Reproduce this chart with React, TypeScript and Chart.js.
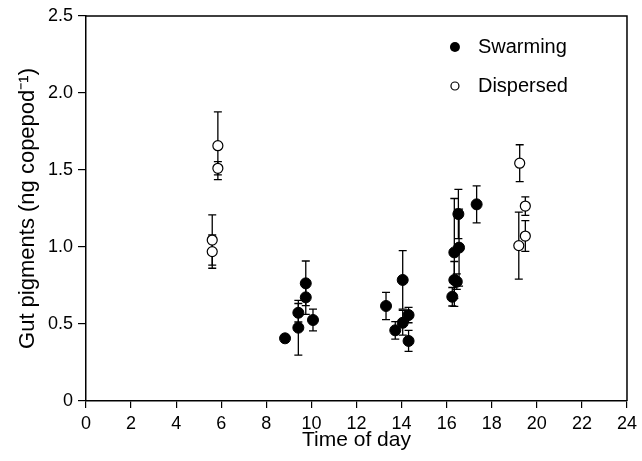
import React, { useEffect, useRef } from "react";
import { Chart, registerables } from "chart.js";

Chart.register(...registerables);

// ---- Data ----
const xTicks = [0, 2, 4, 6, 8, 10, 12, 14, 16, 18, 20, 22, 24];
const yTicks = [0, 0.5, 1.0, 1.5, 2.0, 2.5];

const swarmX = [8.83, 9.42, 9.42, 9.75, 9.75, 10.07, 13.31, 13.72, 14.05, 14.05, 14.31, 14.31, 16.25, 16.34, 16.45, 16.34, 16.52, 16.55, 17.33];
const swarmY = [0.407, 0.476, 0.573, 0.673, 0.764, 0.526, 0.617, 0.459, 0.786, 0.508, 0.558, 0.39, 0.677, 0.786, 0.775, 0.965, 1.214, 0.996, 1.277];
const swarmErr = [0.02, 0.178, 0.06, 0.11, 0.145, 0.07, 0.088, 0.057, 0.19, 0.08, 0.05, 0.068, 0.06, 0.12, 0.05, 0.35, 0.16, 0.25, 0.12];

const dispX = [5.6, 5.6, 5.85, 5.85, 19.2, 19.24, 19.49, 19.49];
const dispY = [1.045, 0.97, 1.658, 1.511, 1.009, 1.544, 1.266, 1.071];
const dispErr = [0.163, 0.108, 0.22, 0.043, 0.218, 0.12, 0.06, 0.1];

const seriesNames = ["Swarming", "Dispersed"];
const xTitle = "Time of day";
const yTitle = "Gut pigments (ng copepod\u207B\u00B9)";

const FONT = "'Liberation Sans', Arial, Helvetica, sans-serif";

const errorBarPlugin = {
  id: "errorBars",
  beforeDatasetsDraw(chart: any) {
    const { ctx, scales } = chart;
    const xs = scales.x;
    const ys = scales.y;
    const sets = [
      { x: swarmX, y: swarmY, e: swarmErr },
      { x: dispX, y: dispY, e: dispErr },
    ];
    ctx.save();
    ctx.strokeStyle = "#000";
    ctx.lineWidth = 1.3;
    const cap = 4;
    sets.forEach((s) => {
      s.x.forEach((xv, i) => {
        const px = xs.getPixelForValue(xv);
        const top = ys.getPixelForValue(s.y[i] + s.e[i]);
        const bot = ys.getPixelForValue(s.y[i] - s.e[i]);
        ctx.beginPath();
        ctx.moveTo(px, top);
        ctx.lineTo(px, bot);
        ctx.moveTo(px - cap, top);
        ctx.lineTo(px + cap, top);
        ctx.moveTo(px - cap, bot);
        ctx.lineTo(px + cap, bot);
        ctx.stroke();
      });
    });
    ctx.restore();
  },
};

const framePlugin = {
  id: "frame",
  afterDraw(chart: any) {
    const { ctx, chartArea } = chart;
    const { left, right, top, bottom } = chartArea;
    ctx.save();
    ctx.strokeStyle = "#000";
    ctx.lineWidth = 1.5;
    ctx.beginPath();
    ctx.moveTo(left, top);
    ctx.lineTo(right, top);
    ctx.lineTo(right, bottom);
    ctx.stroke();

    // legend
    const lx = left + (right - left) * 0.682;
    const ly1 = top + 31;
    const ly2 = top + 70;
    ctx.fillStyle = "#000";
    ctx.beginPath();
    ctx.arc(lx, ly1, 5, 0, Math.PI * 2);
    ctx.fill();
    ctx.fillStyle = "#fff";
    ctx.lineWidth = 1.2;
    ctx.beginPath();
    ctx.arc(lx, ly2, 4, 0, Math.PI * 2);
    ctx.fill();
    ctx.stroke();
    ctx.fillStyle = "#000";
    ctx.font = `20px ${FONT}`;
    ctx.textBaseline = "middle";
    ctx.textAlign = "left";
    ctx.fillText(seriesNames[0], lx + 23, ly1);
    ctx.fillText(seriesNames[1], lx + 23, ly2);
    ctx.restore();
  },
};

export default function App() {
  const ref = useRef<HTMLCanvasElement | null>(null);

  useEffect(() => {
    if (!ref.current) return;
    const chart = new Chart(ref.current, {
      type: "scatter",
      data: {
        datasets: [
          {
            label: seriesNames[0],
            data: swarmX.map((x, i) => ({ x, y: swarmY[i] })),
            pointRadius: 5.5,
            pointBackgroundColor: "#000",
            pointBorderColor: "#000",
            pointBorderWidth: 1,
          },
          {
            label: seriesNames[1],
            data: dispX.map((x, i) => ({ x, y: dispY[i] })),
            pointRadius: 5,
            pointBackgroundColor: "#fff",
            pointBorderColor: "#000",
            pointBorderWidth: 1.2,
          },
        ],
      },
      options: {
        responsive: false,
        animation: false,
        layout: { padding: { top: 16, right: 13, left: 0, bottom: 0 } },
        plugins: { legend: { display: false }, tooltip: { enabled: false } },
        scales: {
          x: {
            type: "linear",
            min: xTicks[0],
            max: xTicks[xTicks.length - 1],
            afterBuildTicks: (s: any) => {
              s.ticks = xTicks.map((v) => ({ value: v }));
            },
            ticks: {
              color: "#000",
              font: { family: FONT, size: 18 },
              padding: 5,
              maxRotation: 0,
              autoSkip: false,
            },
            grid: { drawOnChartArea: false, drawTicks: true, tickLength: 7, color: "#000", lineWidth: 1.2 },
            border: { color: "#000", width: 1.5 },
            title: {
              display: true,
              text: xTitle,
              color: "#000",
              font: { family: FONT, size: 21 },
              padding: { top: 0, bottom: 8 },
            },
            afterFit: (s: any) => {
              s.height = 60;
            },
          },
          y: {
            type: "linear",
            min: yTicks[0],
            max: yTicks[yTicks.length - 1],
            afterBuildTicks: (s: any) => {
              s.ticks = yTicks.map((v) => ({ value: v }));
            },
            ticks: {
              color: "#000",
              font: { family: FONT, size: 18 },
              padding: 5,
              callback: (v: any) => (Number(v) === 0 ? "0" : Number(v).toFixed(1)),
            },
            grid: { drawOnChartArea: false, drawTicks: true, tickLength: 8, color: "#000", lineWidth: 1.2 },
            border: { color: "#000", width: 1.5 },
            title: {
              display: true,
              text: yTitle,
              color: "#000",
              font: { family: FONT, size: 22 },
              padding: { top: 15, bottom: 0 },
            },
            afterFit: (s: any) => {
              s.width = 86;
            },
          },
        },
      },
      plugins: [errorBarPlugin, framePlugin],
    });
    return () => chart.destroy();
  }, []);

  return (
    <div style={{ position: "absolute", left: 0, top: 0, width: 642, height: 461, background: "#fff" }}>
      <canvas ref={ref} width={642} height={461} />
    </div>
  );
}
